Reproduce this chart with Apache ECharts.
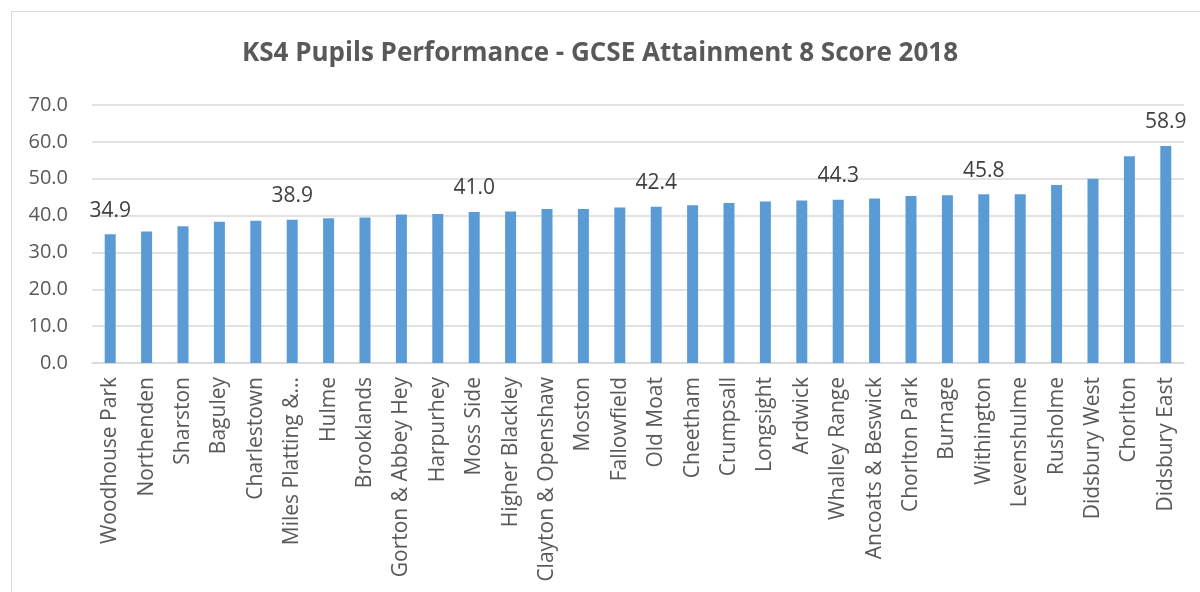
<!DOCTYPE html>
<html>
<head>
<meta charset="utf-8">
<script src="https://cdn.jsdelivr.net/npm/echarts@6/dist/echarts.min.js"></script>
<style>
  html, body { margin: 0; padding: 0; background: #fff; }
  #frame { position: absolute; left: 11px; top: 11px; width: 1200px; height: 600px; border: 1px solid #d9d9d9; }
  #main { position: absolute; left: 0; top: 0; width: 1200px; height: 592px; }
</style>
</head>
<body>
<div id="frame"></div>
<div id="main"></div>
<script>
// 选区名称
const wards = [
  "Woodhouse Park", "Northenden", "Sharston", "Baguley", "Charlestown",
  "Miles Platting & Newton Heath", "Hulme", "Brooklands", "Gorton & Abbey Hey", "Harpurhey",
  "Moss Side", "Higher Blackley", "Clayton & Openshaw", "Moston", "Fallowfield",
  "Old Moat", "Cheetham", "Crumpsall", "Longsight", "Ardwick",
  "Whalley Range", "Ancoats & Beswick", "Chorlton Park", "Burnage", "Withington",
  "Levenshulme", "Rusholme", "Didsbury West", "Chorlton", "Didsbury East"
];
// Attainment 8 得分
const scores = [
  34.9, 35.7, 37.1, 38.3, 38.6,
  38.9, 39.3, 39.5, 40.3, 40.4,
  41.0, 41.1, 41.8, 41.8, 42.2,
  42.4, 42.8, 43.4, 43.8, 44.1,
  44.3, 44.6, 45.3, 45.5, 45.8,
  45.8, 48.3, 50.0, 56.1, 58.9
];
// 显示数据标签的下标
const labelled = [0, 5, 10, 15, 20, 24, 29];
// y轴刻度
const yTicks = { min: 0, max: 70, step: 10 };

const grey = "#595959";
const font = "'Open Sans', sans-serif";

let myChart = echarts.init(document.getElementById("main"));

let option = {
  animation: false,
  backgroundColor: "transparent",
  title: {
    text: "KS4 Pupils Performance - GCSE Attainment 8 Score 2018",
    left: "center",
    top: 36,
    textStyle: {
      fontFamily: font,
      fontWeight: "bold",
      fontSize: 26,
      color: grey
    }
  },
  grid: {
    left: 92,
    right: 16,
    top: 105,
    bottom: 229
  },
  xAxis: {
    type: "category",
    data: wards,
    axisLine: { lineStyle: { color: "#d9d9d9", width: 1.5 } },
    axisTick: { show: false },
    axisLabel: {
      rotate: 90,
      interval: 0,
      margin: 14,
      fontFamily: font,
      fontSize: 21,
      color: grey,
      formatter: function (v) {
        return v.length > 20 ? v.slice(0, 16) + "..." : v;
      }
    }
  },
  yAxis: {
    type: "value",
    min: yTicks.min,
    max: yTicks.max,
    interval: yTicks.step,
    axisLine: { show: false },
    axisTick: { show: false },
    splitLine: { lineStyle: { color: "#d9d9d9", width: 1.5 } },
    axisLabel: {
      margin: 24,
      fontFamily: font,
      fontSize: 20,
      color: grey,
      formatter: function (v) { return v.toFixed(1); }
    }
  },
  series: [
    {
      type: "bar",
      barWidth: 11,
      itemStyle: { color: "#5b9bd5" },
      data: scores.map(function (v, i) {
        return {
          value: v,
          label: { show: labelled.indexOf(i) >= 0 }
        };
      }),
      label: {
        position: "top",
        distance: 13,
        fontFamily: font,
        fontSize: 21,
        color: "#404040",
        formatter: function (p) { return p.value.toFixed(1); }
      }
    }
  ]
};

myChart.setOption(option, true);
</script>
</body>
</html>
